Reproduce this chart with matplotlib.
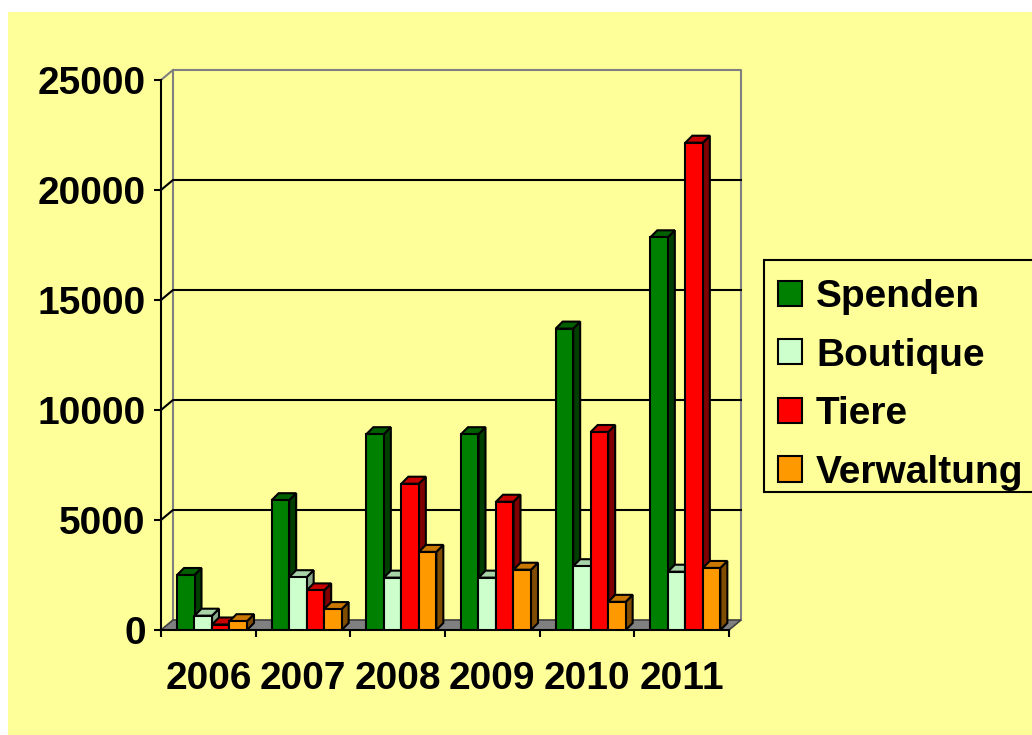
"""Spenden / Boutique / Tiere / Verwaltung 2006-2011, pseudo-3D column chart."""
import matplotlib
matplotlib.use("Agg")
from matplotlib import pyplot as plt
from matplotlib.patches import Polygon, Rectangle

years = ["2006", "2007", "2008", "2009", "2010", "2011"]
series = ["Spenden", "Boutique", "Tiere", "Verwaltung"]
spenden = [2500, 5900, 8900, 8900, 13700, 17850]
boutique = [650, 2400, 2380, 2380, 2900, 2650]
tiere = [250, 1800, 6650, 5830, 9000, 22150]
verwaltung = [400, 950, 3550, 2740, 1280, 2820]

# front, side, top colours per series
colors = [
    ("#008000", "#003f00", "#006000"),
    ("#CCFFCC", "#8aa88a", "#a8d2a8"),
    ("#FF0000", "#7f0000", "#c80000"),
    ("#FF9900", "#7f4c00", "#c87800"),
]
bg = "#FFFF99"

plt.rcParams["font.family"] = ["Liberation Sans", "DejaVu Sans"]
plt.rcParams["font.weight"] = "bold"

W, H = 1032, 735
fig = plt.figure(figsize=(W / 100, H / 100), dpi=100, facecolor="white")
fig.add_artist(Rectangle((8 / W, 0), 1, 1 - 12 / H, transform=fig.transFigure,
                         facecolor=bg, edgecolor="none", zorder=-10))

# front plane of the plot
ax_l, ax_b, ax_w, ax_h = 161, 630, 568, 550
ax = fig.add_axes([ax_l / W, 1 - ax_b / H, ax_w / W, ax_h / H])
ax.set_facecolor("none")
ymax = 25000
ax.set_xlim(-0.5, len(years) - 0.5)
ax.set_ylim(0, ymax)

px_x = len(years) / ax_w
px_y = ymax / ax_h
# wall depth and bar depth in data units
wdx, wdy = 12 * px_x, 10 * px_y
bdx, bdy = 7 * px_x, 7 * px_y
x0, x1 = -0.5, len(years) - 0.5

# floor
ax.add_patch(Polygon([(x0, 0), (x1, 0), (x1 + wdx, wdy), (x0 + wdx, wdy)],
                     closed=True, facecolor="#808080", edgecolor="#404040",
                     lw=1.2, zorder=1, clip_on=False))
# back wall outline
ax.plot([x0 + wdx, x0 + wdx, x1 + wdx, x1 + wdx], [wdy, ymax + wdy, ymax + wdy, wdy],
        color="#808080", lw=1.5, zorder=0.5, clip_on=False)
ax.plot([x0, x0 + wdx], [ymax, ymax + wdy], color="#808080", lw=1.5,
        zorder=0.5, clip_on=False)
# gridlines across side wall and back wall
for v in range(5000, ymax, 5000):
    ax.plot([x0, x0 + wdx, x1 + wdx], [v, v + wdy, v + wdy], color="black",
            lw=1.5, zorder=0.6, clip_on=False)

values = [spenden, boutique, tiere, verwaltung]
bw = 17.5 / (ax_w / len(years))
start = -0.5 + 16 / (ax_w / len(years))
for j, (name, vals) in enumerate(zip(series, values)):
    front, side, top = colors[j]
    xs = [i + start + j * bw for i in range(len(years))]
    z = 3 + j
    ax.bar(xs, vals, width=bw, align="edge", color=front, edgecolor="black",
           lw=1.5, label=name, zorder=z + 0.2)
    for x, h in zip(xs, vals):
        ax.add_patch(Polygon([(x + bw, 0), (x + bw, h), (x + bw + bdx, h + bdy),
                              (x + bw + bdx, bdy)], closed=True, facecolor=side,
                             edgecolor="black", lw=1.5, zorder=z, clip_on=False))
        ax.add_patch(Polygon([(x, h), (x + bw, h), (x + bw + bdx, h + bdy),
                              (x + bdx, h + bdy)], closed=True, facecolor=top,
                             edgecolor="black", lw=1.5, zorder=z, clip_on=False))

for s in ["top", "right"]:
    ax.spines[s].set_visible(False)
for s in ["left", "bottom"]:
    ax.spines[s].set_color("black")
    ax.spines[s].set_linewidth(1.5)
    ax.spines[s].set_zorder(2)

ax.set_yticks(range(0, ymax + 1, 5000))
ax.tick_params(axis="y", length=5, width=1.5, pad=6, labelsize=28)
ax.set_xticks(range(len(years)))
ax.set_xticklabels(years)
ax.set_xticks([i - 0.5 for i in range(len(years) + 1)], minor=True)
ax.tick_params(axis="x", which="major", length=0, pad=22, labelsize=28)
ax.tick_params(axis="x", which="minor", length=5, width=1.5)
for lab in ax.get_xticklabels() + ax.get_yticklabels():
    lab.set_fontweight("bold")

# legend box drawn separately (below the axes), entries placed inside it
fig.add_artist(Rectangle((764 / W, 1 - 492 / H), 300 / W, 232 / H,
                         transform=fig.transFigure, facecolor=bg,
                         edgecolor="black", lw=1.5, zorder=-5))
leg = ax.legend(loc="upper left", bbox_to_anchor=(778 / W, 1 - 279 / H),
                bbox_transform=fig.transFigure, borderaxespad=0, frameon=False,
                prop={"size": 28, "weight": "bold"}, handlelength=0.62,
                handleheight=0.62, handletextpad=0.36, labelspacing=0.58,
                borderpad=0)

fig.savefig("out.png", dpi=100, facecolor=fig.get_facecolor())
